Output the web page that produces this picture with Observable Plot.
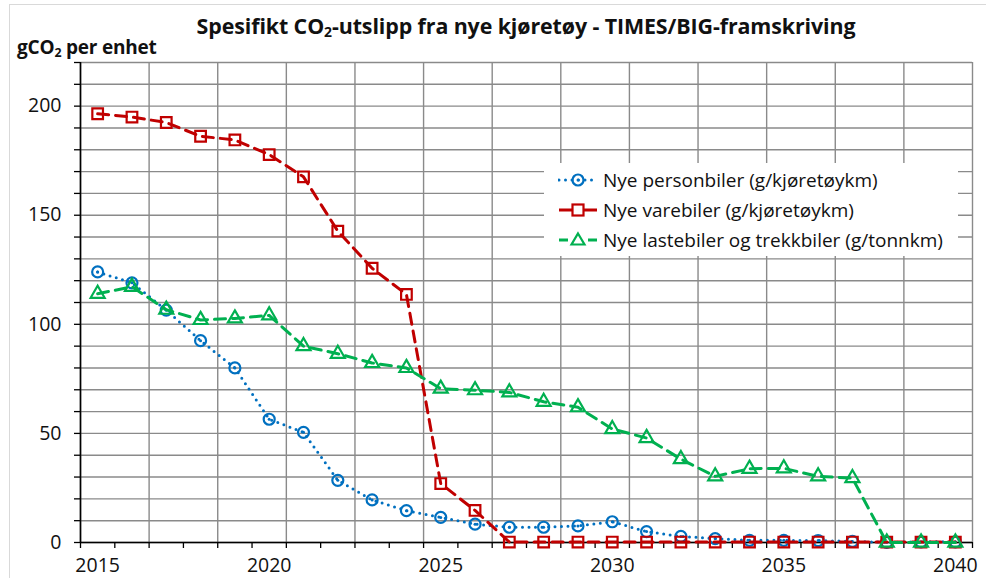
<!DOCTYPE html>
<html>
<head>
<meta charset="utf-8">
<script src="https://cdn.jsdelivr.net/npm/d3@7"></script>
<script src="https://cdn.jsdelivr.net/npm/@observablehq/plot@0.6"></script>
<style>
  html, body { margin: 0; padding: 0; background: #fff; }
  #wrap { position: relative; width: 986px; height: 578px; overflow: hidden; font-family: "Open Sans", sans-serif; color: #111; }
  #frame { position: absolute; left: 9px; top: 4px; width: 1000px; height: 600px; border-left: 1.5px solid #d9d9d9; border-top: 1.5px solid #d9d9d9; }
  #chart { position: absolute; left: 0; top: 0; }
  #chart svg text { font-family: "Open Sans", sans-serif; font-size: 19.5px; fill: #111; }
  #title { position: absolute; left: 0; width: 1052px; top: 13px; text-align: center; font-weight: bold; font-size: 21.4px; line-height: 26px; white-space: nowrap; letter-spacing: -0.1px; }
  #ylab { position: absolute; left: 17px; top: 37px; font-weight: bold; font-size: 19px; line-height: 20px; white-space: nowrap; letter-spacing: -0.2px; }
  sub { font-size: 0.65em; vertical-align: -0.25em; line-height: 0; }
  #legend { position: absolute; left: 544px; top: 163px; width: 414px; height: 93px; background: #fff; }
  .item { position: absolute; left: 14px; height: 30px; display: flex; align-items: center; font-size: 19px; white-space: nowrap; }
  .item svg { margin-right: 5px; }
</style>
</head>
<body>
<div id="wrap">
  <div id="frame"></div>
  <div id="chart"></div>
  <div id="title">Spesifikt CO<sub>2</sub>-utslipp fra nye kjøretøy - TIMES/BIG-framskriving</div>
  <div id="ylab">gCO<sub>2</sub> per enhet</div>
  <div id="legend"></div>
</div>
<script>
// ---- data ----
const years = [2015, 2016, 2017, 2018, 2019, 2020, 2021, 2022, 2023, 2024, 2025, 2026, 2027,
               2028, 2029, 2030, 2031, 2032, 2033, 2034, 2035, 2036, 2037, 2038, 2039, 2040];
const personbiler = [124, 119, 106.5, 92.5, 80, 56.5, 50.5, 28.5, 19.5, 14.6, 11.5, 8.4, 7,
                     7, 7.6, 9.5, 5, 2.8, 1.8, 1, 1, 0.9, 0.5, 0.1, 0.3, 0.3];
const varebiler = [196.5, 195, 192.5, 186.2, 184.5, 177.8, 167.6, 142.7, 125.7, 113.7, 27, 14.7, 0.2,
                   0.2, 0.2, 0.2, 0.2, 0.2, 0.2, 0.2, 0.2, 0.2, 0.2, 0.2, 0.2, 0.2];
const lastebiler = [114, 117.2, 106.7, 102, 102.7, 104.1, 90, 86.5, 82.3, 80, 70.5, 69.8, 68.8,
                    64.5, 62, 52, 47.9, 38.2, 30.3, 33.8, 34, 30.3, 29.5, 0, 0, 0];
const seriesNames = ["Nye personbiler (g/kjøretøykm)", "Nye varebiler (g/kjøretøykm)", "Nye lastebiler og trekkbiler (g/tonnkm)"];
const xTickLabels = [2015, 2020, 2025, 2030, 2035, 2040];
const yTickLabels = [0, 50, 100, 150, 200];

// ---- derived tables ----
const xBounds = years.map(y => y - 0.5).concat([years[years.length - 1] + 0.5]);
const xGridLines = xBounds.filter((d, i) => i % 2 === 0);
const yMinor = d3.range(0, 221, 10);
const tbl = (vals, s) => years.map((year, i) => ({year, value: vals[i], series: s}));
const P = tbl(personbiler, seriesNames[0]);
const V = tbl(varebiler, seriesNames[1]);
const L = tbl(lastebiler, seriesNames[2]);

const blue = "#0070C0", red = "#C00000", green = "#00B050";
const gridCol = "#8a8a8a";

const chart = Plot.plot({
  width: 986,
  height: 578,
  marginLeft: 80,
  marginRight: 14,
  marginTop: 62,
  marginBottom: 36,
  style: {fontFamily: "'Open Sans', sans-serif", fontSize: "19.5px", color: "#111", background: "transparent", overflow: "visible"},
  x: {domain: [xBounds[0], xBounds[xBounds.length - 1]], axis: null},
  y: {domain: [0, 220], axis: null},
  marks: [
    Plot.gridX(xGridLines, {stroke: gridCol, strokeOpacity: 1, strokeWidth: 1.4}),
    Plot.gridY(yMinor, {stroke: gridCol, strokeOpacity: 1, strokeWidth: 1.4}),
    // axes
    Plot.axisY(yMinor, {anchor: "left", tickSize: 6, tickPadding: 0, tickFormat: () => "", stroke: "#000", strokeWidth: 1.3, label: null}),
    Plot.axisY(yTickLabels, {anchor: "left", tickSize: 0, tickPadding: 19, fontSize: 19.5, label: null}),
    Plot.axisX(xBounds, {anchor: "bottom", tickSize: 6, tickPadding: 0, tickFormat: () => "", stroke: "#000", strokeWidth: 1.3, label: null}),
    Plot.axisX(xTickLabels, {anchor: "bottom", tickSize: 0, tickPadding: 16, fontSize: 19.5, tickFormat: d => String(d), label: null}),
    Plot.ruleX([xBounds[0]], {stroke: "#000", strokeWidth: 1.6}),
    Plot.ruleY([0], {stroke: "#000", strokeWidth: 1.6}),
    // personbiler
    Plot.line(P, {x: "year", y: "value", stroke: blue, strokeWidth: 3, strokeDasharray: "0 6.5", strokeLinecap: "round"}),
    Plot.dot(P, {x: "year", y: "value", r: 5.5, stroke: blue, strokeWidth: 2.2, fill: "none"}),
    Plot.dot(P, {x: "year", y: "value", r: 1.5, fill: blue}),
    // varebiler
    Plot.line(V, {x: "year", y: "value", stroke: red, strokeWidth: 3, strokeDasharray: "11 7"}),
    Plot.dot(V, {x: "year", y: "value", symbol: "square", r: 6, stroke: red, strokeWidth: 2.2, fill: "none"}),
    // lastebiler
    Plot.line(L, {x: "year", y: "value", stroke: green, strokeWidth: 3, strokeDasharray: "11 7"}),
    Plot.dot(L, {x: "year", y: "value", symbol: "triangle", r: 5.2, stroke: green, strokeWidth: 2.2, fill: "none"})
  ]
});
document.getElementById("chart").appendChild(chart);

// ---- legend ----
const legend = document.getElementById("legend");
const samples = [
  `<line x1="1" y1="10" x2="39" y2="10" stroke="${blue}" stroke-width="3" stroke-dasharray="0 6.5" stroke-linecap="round"/><circle cx="20" cy="10" r="5.5" fill="none" stroke="${blue}" stroke-width="2.2"/><circle cx="20" cy="10" r="1.5" fill="${blue}"/>`,
  `<line x1="1" y1="10" x2="39" y2="10" stroke="${red}" stroke-width="3"/><rect x="14.5" y="4.5" width="11" height="11" fill="#fff" stroke="${red}" stroke-width="2.2"/>`,
  `<line x1="1" y1="10" x2="10" y2="10" stroke="${green}" stroke-width="3"/><line x1="30" y1="10" x2="39" y2="10" stroke="${green}" stroke-width="3"/><path d="M20,3.5 L26.5,14.5 L13.5,14.5 Z" fill="#fff" stroke="${green}" stroke-width="2.2"/>`
];
seriesNames.forEach((name, i) => {
  const div = document.createElement("div");
  div.className = "item";
  div.style.top = (2 + i * 30) + "px";
  div.innerHTML = `<svg width="40" height="20">${samples[i]}</svg><span>${name}</span>`;
  legend.appendChild(div);
});
</script>
</body>
</html>
